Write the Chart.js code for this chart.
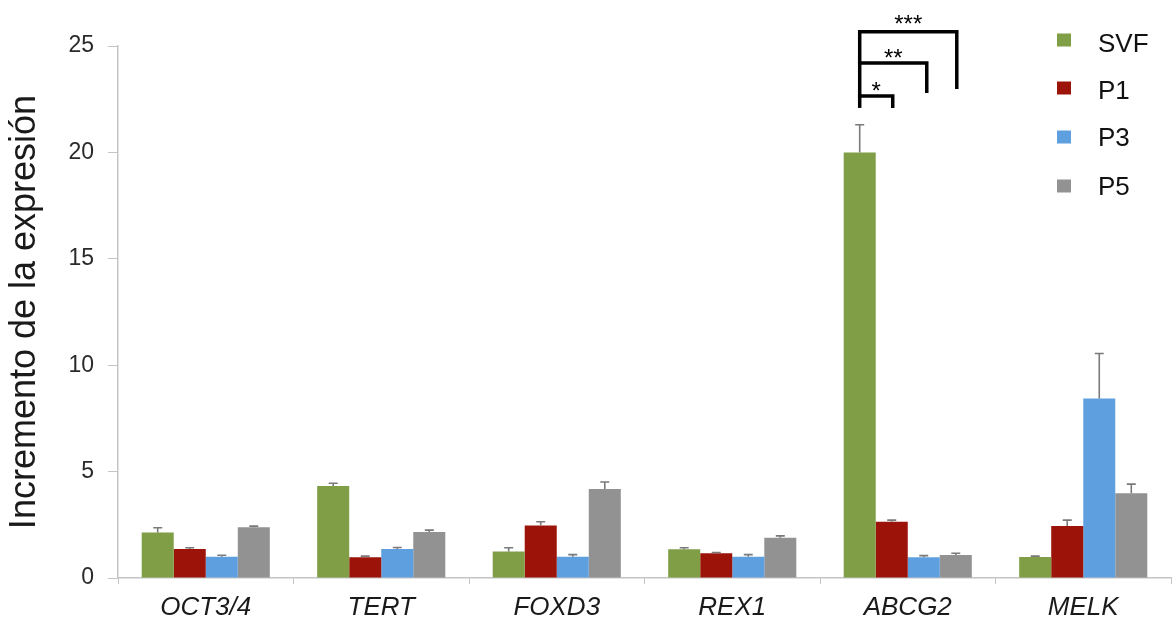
<!DOCTYPE html>
<html>
<head>
<meta charset="utf-8">
<script src="https://cdn.jsdelivr.net/npm/chart.js@4.4.1/dist/chart.umd.min.js"></script>
<style>
  html, body { margin: 0; padding: 0; background: #ffffff; }
  #wrap { width: 1172px; height: 624px; position: relative; }
</style>
</head>
<body>
<div id="wrap"><canvas id="c" width="1172" height="624"></canvas></div>
<script>
// Gene markers on the x axis
const categories = ['OCT3/4', 'TERT', 'FOXD3', 'REX1', 'ABCG2', 'MELK'];

// Fold increase in expression per cell population, with upper error
const svf    = [2.14, 4.32, 1.24, 1.35, 20.0, 0.99];
const svfErr = [0.22, 0.13, 0.18, 0.07, 1.30, 0.04];
const p1     = [1.36, 0.97, 2.47, 1.16, 2.64, 2.44];
const p1Err  = [0.06, 0.06, 0.17, 0.04, 0.08, 0.28];
const p3     = [1.00, 1.36, 1.00, 1.00, 0.97, 8.44];
const p3Err  = [0.07, 0.07, 0.10, 0.10, 0.08, 2.11];
const p5     = [2.39, 2.16, 4.18, 1.89, 1.08, 3.98];
const p5Err  = [0.05, 0.09, 0.33, 0.09, 0.08, 0.43];

const seriesNames = ['SVF', 'P1', 'P3', 'P5'];
const yTicks = [0, 5, 10, 15, 20, 25];

// Significance brackets (SVF against each passage, on ABCG2)
const sigCategory = 4;
const sigTargets  = [1, 2, 3];
const sigLabels   = ['*', '**', '***'];
const sigLevels   = [22.65, 24.20, 25.67];  // height of the horizontal bar
const sigLegEnds  = [22.09, 22.79, 22.98];  // lower end of the right leg
const sigBaseEnd  = 22.09;                  // lower end of the shared left leg

const colors = ['#7f9e46', '#9c1409', '#5e9fe0', '#929292'];
const errors = [svfErr, p1Err, p3Err, p5Err];

const errorBars = {
  id: 'errorBars',
  afterDatasetsDraw(chart) {
    const ctx = chart.ctx, y = chart.scales.y;
    ctx.save();
    ctx.strokeStyle = '#7a7a7a';
    ctx.lineWidth = 1.6;
    chart.data.datasets.forEach((ds, i) => {
      const meta = chart.getDatasetMeta(i);
      meta.data.forEach((bar, j) => {
        const top = y.getPixelForValue(ds.data[j] + errors[i][j]);
        ctx.beginPath();
        ctx.moveTo(bar.x, bar.y);
        ctx.lineTo(bar.x, top);
        ctx.moveTo(bar.x - 4.5, top);
        ctx.lineTo(bar.x + 4.5, top);
        ctx.stroke();
      });
    });
    ctx.restore();
  }
};

const brackets = {
  id: 'brackets',
  afterDatasetsDraw(chart) {
    const ctx = chart.ctx, y = chart.scales.y;
    const x0 = chart.getDatasetMeta(0).data[sigCategory].x;
    ctx.save();
    ctx.strokeStyle = '#000000';
    ctx.lineWidth = 3.5;
    ctx.lineJoin = 'miter';
    ctx.lineCap = 'butt';
    // shared left leg
    ctx.beginPath();
    ctx.moveTo(x0, y.getPixelForValue(Math.max(...sigLevels)));
    ctx.lineTo(x0, y.getPixelForValue(sigBaseEnd));
    ctx.stroke();
    ctx.fillStyle = '#000000';
    ctx.font = '24px "Liberation Sans", Arial, sans-serif';
    ctx.textAlign = 'center';
    ctx.textBaseline = 'alphabetic';
    sigTargets.forEach((t, k) => {
      const x1 = chart.getDatasetMeta(t).data[sigCategory].x + (k === 1 ? 3 : 1);
      const yl = y.getPixelForValue(sigLevels[k]);
      ctx.beginPath();
      ctx.moveTo(x0 - 1.75, yl);
      ctx.lineTo(x1, yl);
      ctx.lineTo(x1, y.getPixelForValue(sigLegEnds[k]));
      ctx.stroke();
      ctx.fillText(sigLabels[k], (x0 + x1) / 2, yl + (k === 2 ? 0 : 3));
    });
    ctx.restore();
  }
};

const sideLegend = {
  id: 'sideLegend',
  afterDraw(chart) {
    const ctx = chart.ctx;
    const boxY = [40, 88, 137, 186];
    const textY = [45, 92, 139, 188];
    ctx.save();
    ctx.font = '26px "Liberation Sans", Arial, sans-serif';
    ctx.textAlign = 'left';
    ctx.textBaseline = 'middle';
    chart.data.datasets.forEach((ds, i) => {
      ctx.fillStyle = ds.backgroundColor;
      ctx.fillRect(1057, boxY[i] - 6.5, 14, 13);
      ctx.fillStyle = '#111111';
      ctx.fillText(ds.label, 1098, textY[i]);
    });
    ctx.restore();
  }
};

const values = [svf, p1, p3, p5];

new Chart(document.getElementById('c'), {
  type: 'bar',
  data: {
    labels: categories,
    datasets: seriesNames.map((name, i) => ({
      label: name,
      data: values[i],
      backgroundColor: colors[i],
      borderWidth: 0,
      categoryPercentage: 0.73,
      barPercentage: 1.0
    }))
  },
  options: {
    responsive: false,
    animation: false,
    devicePixelRatio: 1,
    layout: { padding: { top: 46, right: 1, left: 0, bottom: 0 } },
    plugins: {
      legend: { display: false },
      tooltip: { enabled: false }
    },
    scales: {
      x: {
        offset: true,
        grid: {
          offset: true,
          drawOnChartArea: false,
          drawTicks: true,
          tickLength: 6,
          color: '#c4c4c4'
        },
        border: { color: '#c4c4c4', width: 1.5 },
        ticks: {
          color: '#1a1a1a',
          padding: 8,
          font: { family: '"Liberation Sans", Arial, sans-serif', size: 26, style: 'italic' }
        },
        afterFit(scale) { scale.height = 46; }
      },
      y: {
        min: 0,
        max: 25,
        afterBuildTicks(scale) { scale.ticks = yTicks.map(v => ({ value: v })); },
        grid: {
          drawOnChartArea: false,
          drawTicks: true,
          tickLength: 10,
          color: '#c4c4c4'
        },
        border: { color: '#c4c4c4', width: 1.5 },
        ticks: {
          color: '#2a2a2a',
          padding: 14,
          font: { family: '"Liberation Sans", Arial, sans-serif', size: 23 }
        },
        title: {
          display: true,
          text: 'Incremento de la expresión',
          color: '#1a1a1a',
          padding: { top: 3, bottom: 0 },
          font: { family: '"Liberation Sans", Arial, sans-serif', size: 36 }
        },
        afterFit(scale) { scale.width = 118; }
      }
    }
  },
  plugins: [errorBars, brackets, sideLegend]
});
</script>
</body>
</html>
